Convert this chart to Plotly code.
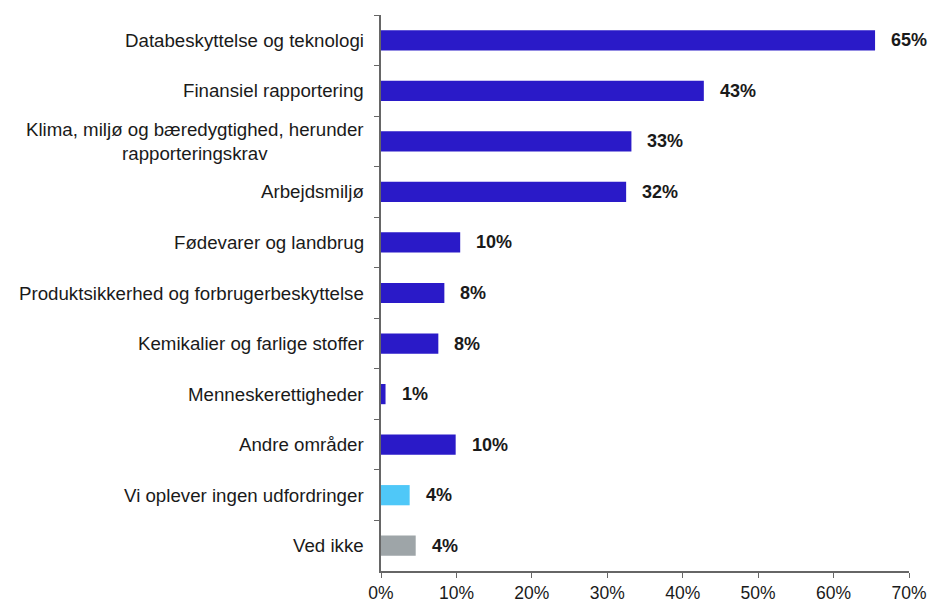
import plotly.graph_objects as go

# Data
kategorier = [
    "Databeskyttelse og teknologi",
    "Finansiel rapportering",
    "Klima, miljø og bæredygtighed, herunder<br>rapporteringskrav",
    "Arbejdsmiljø",
    "Fødevarer og landbrug",
    "Produktsikkerhed og forbrugerbeskyttelse",
    "Kemikalier og farlige stoffer",
    "Menneskerettigheder",
    "Andre områder",
    "Vi oplever ingen udfordringer",
    "Ved ikke",
]
andele = [65.5, 42.8, 33.2, 32.5, 10.5, 8.4, 7.6, 0.6, 9.9, 3.8, 4.6]
etiketter = ["65%", "43%", "33%", "32%", "10%", "8%", "8%", "1%", "10%", "4%", "4%"]
farver = ["#2a1ac8"] * 9 + ["#4fc8f8", "#9ea5a8"]

x_ticks = [0, 10, 20, 30, 40, 50, 60, 70]
x_ticktext = ["0%", "10%", "20%", "30%", "40%", "50%", "60%", "70%"]

FONT = "Liberation Sans"
TXT = "#1a1a1a"

fig = go.Figure()
fig.add_trace(go.Bar(
    x=andele,
    y=kategorier,
    orientation="h",
    marker=dict(color=farver, line=dict(width=0)),
    width=0.4,
    hoverinfo="skip",
))

annots = []
# værdi-etiketter
for kat, v, t in zip(kategorier, andele, etiketter):
    annots.append(dict(
        x=v, y=kat, xref="x", yref="y", text=t, showarrow=False,
        xanchor="left", xshift=14,
        font=dict(family=FONT, size=18, color=TXT, weight="bold"),
    ))
# kategori-etiketter (centreret ved flere linjer)
for kat in kategorier:
    annots.append(dict(
        x=0, y=kat, xref="paper", yref="y", text=kat, showarrow=False,
        xanchor="right", xshift=-15, align="center",
        font=dict(family=FONT, size=18.7, color=TXT),
    ))

fig.update_layout(
    width=931, height=603,
    margin=dict(l=381, r=22, t=15, b=32, autoexpand=False),
    plot_bgcolor="white", paper_bgcolor="white",
    showlegend=False,
    annotations=annots,
    xaxis=dict(
        range=[0, 70], tickvals=x_ticks, ticktext=x_ticktext,
        showgrid=False, zeroline=False, automargin=False,
        showline=True, linecolor="#666666", linewidth=1.5,
        ticks="outside", ticklen=5, tickcolor="#666666", tickwidth=1.2,
        tickfont=dict(family=FONT, size=17.5, color=TXT),
    ),
    yaxis=dict(
        autorange="reversed", showgrid=False, zeroline=False, automargin=False,
        showline=True, linecolor="#666666", linewidth=1.5,
        ticks="outside", ticklen=5, tickcolor="#666666", tickwidth=1.2,
        tickson="boundaries", showticklabels=False,
    ),
)

# fjern standard body-margin i browseren
fig.write_html("out.html", config={"displayModeBar": False},
               post_script="document.body.style.margin='0';")
